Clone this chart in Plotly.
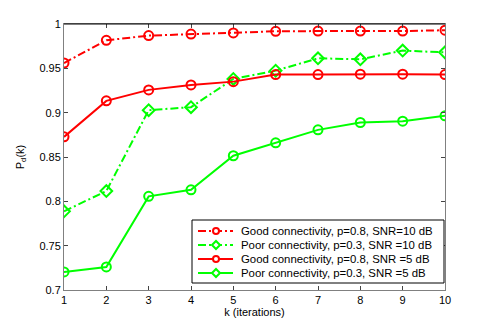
import plotly.graph_objects as go

k = [1, 2, 3, 4, 5, 6, 7, 8, 9, 10]
good_10db = [0.956, 0.9816, 0.9869, 0.9887, 0.9899, 0.9918, 0.992, 0.992, 0.992, 0.993]
poor_10db = [0.7887, 0.8116, 0.9028, 0.9062, 0.938, 0.9474, 0.9613, 0.9602, 0.970, 0.968]
good_5db = [0.8727, 0.9133, 0.9257, 0.9313, 0.935, 0.943, 0.943, 0.9434, 0.9434, 0.943]
poor_5db = [0.7204, 0.726, 0.8056, 0.813, 0.8514, 0.866, 0.8806, 0.8889, 0.8904, 0.8964]

names = [
    "Good connectivity, p=0.8, SNR=10 dB",
    "Poor connectivity, p=0.3, SNR =10 dB",
    "Good connectivity, p=0.8, SNR =5 dB",
    "Poor connectivity, p=0.3, SNR =5 dB",
]
x_ticks = k
y_ticks = [0.7, 0.75, 0.8, 0.85, 0.9, 0.95, 1.0]
y_tick_labels = ["0.7", "0.75", "0.8", "0.85", "0.9", "0.95", "1"]

RED = "#FF0000"
GREEN = "#00FF00"
DASHDOT = "8px,3px,2px,3px"

series = [
    (good_10db, RED, DASHDOT, "circle-open"),
    (poor_10db, GREEN, DASHDOT, "diamond-open"),
    (good_5db, RED, "solid", "circle-open"),
    (poor_5db, GREEN, "solid", "circle-open"),
]
legend_symbols = ["circle", "diamond", "circle", "diamond"]

W, H = 491, 327
ML, MR, MT, MB = 64, 46, 24, 37
PW, PH = W - ML - MR, H - MT - MB


def px_x(p):
    return (p - ML) / PW


def px_y(p):
    return (H - MB - p) / PH


fig = go.Figure()
for (vals, col, dash, sym), nm in zip(series, names):
    fig.add_trace(go.Scatter(
        x=k, y=vals, mode="lines+markers", name=nm, showlegend=False,
        line=dict(color=col, width=2, dash=dash),
        marker=dict(symbol=sym, size=9, color=col, line=dict(color=col, width=2)),
        hoverinfo="skip",
    ))

font = "Liberation Sans, Arial, sans-serif"
fig.update_layout(
    width=W, height=H,
    margin=dict(l=ML, r=MR, t=MT, b=MB),
    paper_bgcolor="white", plot_bgcolor="white",
    font=dict(family=font, size=11, color="black"),
    showlegend=False,
    xaxis=dict(
        range=[1, 10], tickvals=x_ticks, ticks="inside", ticklen=4,
        showline=True, linecolor="#808080", linewidth=1, mirror="ticks",
        showgrid=False, zeroline=False,
        title=dict(text="k (iterations)", standoff=0, font=dict(size=11)),
        tickfont=dict(size=11),
    ),
    yaxis=dict(
        range=[0.7, 1.0], tickvals=y_ticks, ticktext=y_tick_labels,
        ticks="inside", ticklen=4,
        showline=True, linecolor="#808080", linewidth=1, mirror="ticks",
        showgrid=False, zeroline=False,
        title=dict(text="P<sub>d</sub>(k)", standoff=12, font=dict(size=11)),
        tickfont=dict(size=11),
    ),
)
fig.add_shape(type="line", xref="paper", yref="paper", x0=0, x1=1, y0=1, y1=1,
              line=dict(color="black", width=1))

# Hand-drawn legend box (MATLAB style, tight rows)
box_l, box_r, box_t, box_b = 192, 444, 220, 283
row_y = [231, 245, 259, 273]
line_x0, line_x1, mark_x, text_x = 198, 233, 216, 239
fig.add_shape(type="rect", xref="paper", yref="paper",
              x0=px_x(box_l), x1=px_x(box_r), y0=px_y(box_b), y1=px_y(box_t),
              line=dict(color="black", width=1), fillcolor="white", layer="above")
for (vals, col, dash, sym), nm, lsym, ry in zip(series, names, legend_symbols, row_y):
    yy = px_y(ry)
    fig.add_shape(type="line", xref="paper", yref="paper",
                  x0=px_x(line_x0), x1=px_x(line_x1), y0=yy, y1=yy,
                  line=dict(color=col, width=2, dash=dash), layer="above")
    if lsym == "circle":
        fig.add_shape(type="circle", xref="paper", yref="paper",
                      xsizemode="pixel", ysizemode="pixel",
                      xanchor=px_x(mark_x), yanchor=yy,
                      x0=-3, x1=3, y0=-3, y1=3,
                      line=dict(color=col, width=2), fillcolor="white", layer="above")
    else:
        fig.add_shape(type="path", xref="paper", yref="paper",
                      xsizemode="pixel", ysizemode="pixel",
                      xanchor=px_x(mark_x), yanchor=yy,
                      path="M -4 0 L 0 4 L 4 0 L 0 -4 Z",
                      line=dict(color=col, width=2), fillcolor="white", layer="above")
    fig.add_annotation(xref="paper", yref="paper", x=px_x(text_x), y=yy,
                       text=nm, showarrow=False, xanchor="left", yanchor="middle",
                       font=dict(size=11.4, color="black"))

fig.write_html("out.html", config={"displayModeBar": False},
               post_script="document.body.style.margin='0';")
